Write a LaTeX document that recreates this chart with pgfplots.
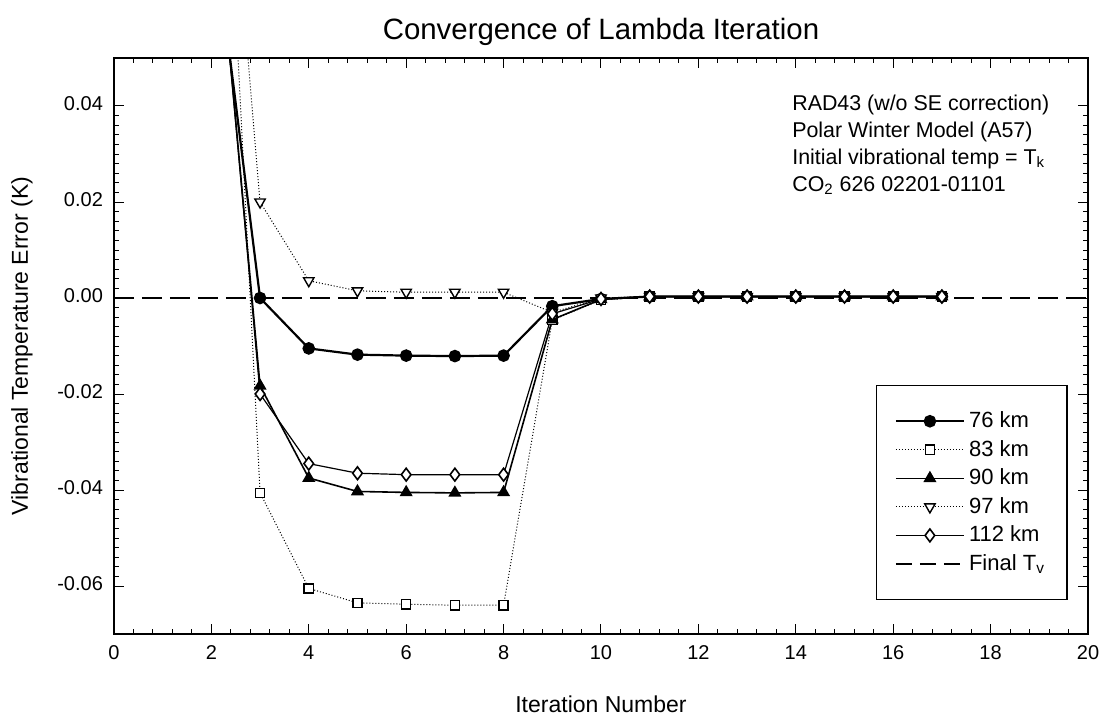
\documentclass[border=0pt]{standalone}
\usepackage{fontspec}
\setmainfont{Liberation Sans}
\usepackage{pgfplots}
\pgfplotsset{compat=1.18}

\begin{document}
\begin{tikzpicture}
\begin{axis}[
  scale only axis,
  width=487pt, height=288pt,
  xmin=0, xmax=20, ymin=-0.07, ymax=0.05,
  xtick={0,2,4,6,8,10,12,14,16,18,20},
  ytick={-0.06,-0.04,-0.02,0,0.02,0.04},
  minor x tick num=4, minor y tick num=9,
  tick align=inside,
  major tick length=5pt, minor tick length=2.5pt,
  tick style={black, line width=0.5pt},
  axis line style={line width=0.8pt},
  /pgf/number format/assume math mode=true,
  scaled y ticks=false,
  typeset ticklabels with strut,
  yticklabel style={/pgf/number format/fixed, /pgf/number format/fixed zerofill,
    /pgf/number format/precision=2, xshift=-2pt},
  ticklabel style={font=\fontsize{10}{12}\selectfont},
  xticklabel style={yshift=-1pt},
  xlabel={Iteration Number},
  ylabel={Vibrational Temperature Error (K)},
  label style={font=\fontsize{11.5}{13}\selectfont},
  xlabel style={at={(axis description cs:0.5,-0.1215)}, anchor=center},
  ylabel style={at={(axis description cs:-0.0945,0.5)}, anchor=center},
  legend cell align=left,
  legend style={at={(axis description cs:0.979,0.059)}, anchor=south east,
    draw=black, line width=0.6pt, font=\fontsize{11}{13}\selectfont,
    inner xsep=9pt, inner ysep=11pt, row sep=0.8pt,
    /tikz/every even column/.append style={column sep=4pt}},
  legend image code/.code={\draw[mark repeat=2,mark phase=2,#1]
    plot coordinates {(0pt,0pt) (17pt,0pt) (34pt,0pt)};},
]
% converged reference level
\addplot[black, line width=1pt, dash pattern=on 10pt off 4pt, forget plot]
  coordinates {(0,0) (20,0)};

% 76 km
\addplot[black, line width=1.1pt, mark=*, mark size=2.6pt,
  mark options={solid, fill=black}] coordinates {
  (2,0.081) (3,0.0) (4,-0.0105) (5,-0.0118) (6,-0.012) (7,-0.0121) (8,-0.012)
  (9,-0.0017) (10,-0.0002) (11,0.0003) (12,0.0003) (13,0.0003) (14,0.0003)
  (15,0.0003) (16,0.0003) (17,0.0003)};
\addlegendentry{76 km}

% 83 km
\addplot[black, line width=0.5pt, densely dotted, mark=square*, mark size=2.3pt,
  mark options={solid, fill=white, line width=0.7pt}] coordinates {
  (2,0.16) (3,-0.0406) (4,-0.0605) (5,-0.0635) (6,-0.0638) (7,-0.064) (8,-0.064)
  (9,-0.0046) (10,-0.0004) (11,0.0003) (12,0.0003) (13,0.0003) (14,0.0003)
  (15,0.0003) (16,0.0003) (17,0.0003)};
\addlegendentry{83 km}

% 90 km
\addplot[black, line width=0.8pt, mark=triangle*, mark size=3pt,
  mark options={solid, fill=black}] coordinates {
  (2,0.092) (3,-0.0183) (4,-0.0375) (5,-0.0403) (6,-0.0405) (7,-0.0406) (8,-0.0405)
  (9,-0.0045) (10,-0.0003) (11,0.0003) (12,0.0003) (13,0.0003) (14,0.0003)
  (15,0.0003) (16,0.0003) (17,0.0003)};
\addlegendentry{90 km}

% 97 km
\addplot[black, line width=0.5pt, densely dotted, mark=triangle*, mark size=3pt,
  mark options={solid, fill=white, rotate=180, line width=0.7pt}] coordinates {
  (2,0.14) (3,0.020) (4,0.0036) (5,0.0015) (6,0.0012) (7,0.0012) (8,0.0012)
  (9,-0.003) (10,0.0) (11,0.0003) (12,0.0003) (13,0.0003) (14,0.0003)
  (15,0.0003) (16,0.0003) (17,0.0003)};
\addlegendentry{97 km}

% 112 km
\addplot[black, line width=0.6pt, mark=diamond*, mark size=3.2pt,
  mark options={solid, fill=white, line width=0.8pt}] coordinates {
  (2,0.093) (3,-0.020) (4,-0.0345) (5,-0.0365) (6,-0.0368) (7,-0.0368) (8,-0.0368)
  (9,-0.0033) (10,-0.0002) (11,0.0003) (12,0.0003) (13,0.0003) (14,0.0003)
  (15,0.0003) (16,0.0003) (17,0.0003)};
\addlegendentry{112 km}

\addlegendimage{black, line width=1pt, dash pattern=on 8pt off 4pt}
\addlegendentry{Final T\textsubscript{v}}

% run description
\node[anchor=north west, align=left, inner sep=0pt,
  font=\fontsize{10.7}{13.5}\selectfont] at (axis description cs:0.696,0.937)
  {RAD43 (w/o SE correction)\\Polar Winter Model (A57)\\
   Initial vibrational temp = T\textsubscript{k}\\CO\textsubscript{2} 626 02201-01101};

\coordinate (ttl) at (axis description cs:0.5,1.045);
\coordinate (bbsw) at (axis description cs:-0.117,-0.139);
\coordinate (bbne) at (axis description cs:1.0154,1.1007);
\end{axis}
\node[anchor=center, inner sep=0pt, font=\fontsize{14.7}{16}\selectfont]
  at (ttl) {Convergence of Lambda Iteration};
\pgfresetboundingbox
\useasboundingbox (bbsw) rectangle (bbne);
\end{tikzpicture}
\end{document}
